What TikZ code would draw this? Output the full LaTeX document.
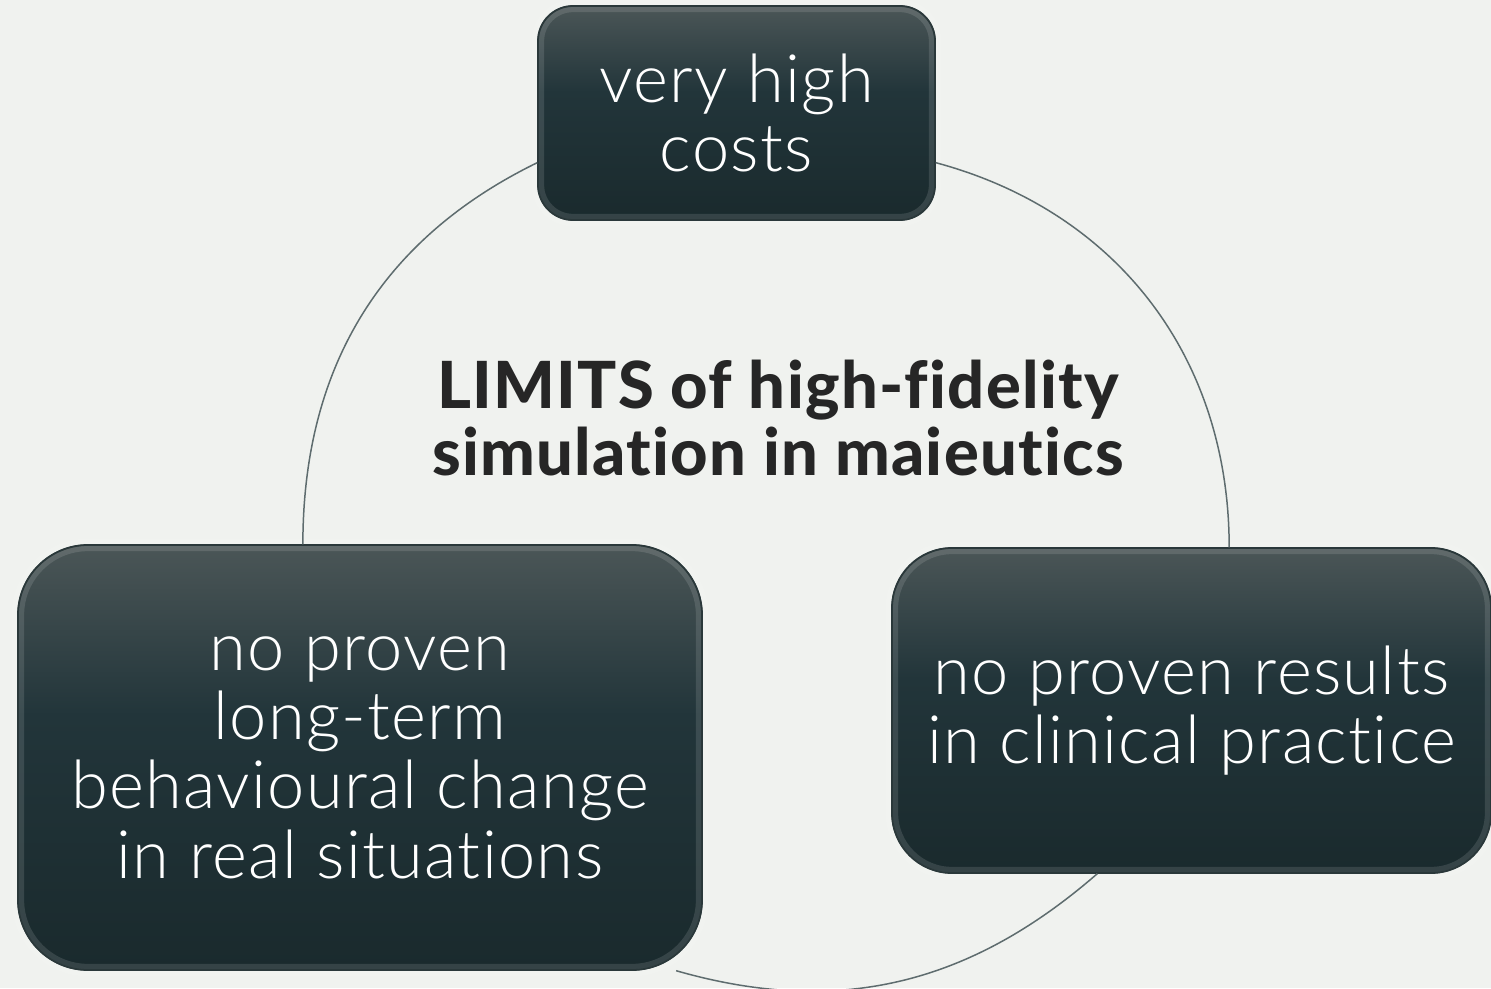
\documentclass[tikz,border=0pt]{standalone}
\usepackage{fontspec}
\defaultfontfeatures{Ligatures={NoCommon}}
\setmainfont{Lato}
\newfontfamily\lightfont{Lato Light}[LetterSpace=2]
\newfontfamily\heavyfont{Lato Heavy}[LetterSpace=2]
\usetikzlibrary{positioning}

\definecolor{bg}{HTML}{F0F2EF}
\definecolor{boxtop}{HTML}{4B5657}
\definecolor{boxmid}{HTML}{22353A}
\definecolor{boxbot}{HTML}{1A2A2D}
\definecolor{boxedge}{HTML}{2A383A}
\definecolor{arcline}{HTML}{5E6C6E}
\definecolor{titletext}{HTML}{262626}
\pgfdeclareverticalshading{boxshade}{100bp}{color(0bp)=(boxbot); color(25bp)=(boxbot); color(55bp)=(boxmid); color(75bp)=(boxtop); color(100bp)=(boxtop)}

\begin{document}
\begin{tikzpicture}[
    limit/.style={rectangle, draw=boxedge, line width=0.8pt, shading=boxshade,
      postaction={draw=white, opacity=0.12, line width=7pt},
      postaction={draw=boxedge, line width=1pt},
      text=white, align=center, inner sep=0pt,
      font=\lightfont\fontsize{38}{39.5}\selectfont},
    cycle/.style={draw=arcline, line width=0.85pt}
  ]
  \fill[bg] (0,0) rectangle (29.82,19.76);
  \useasboundingbox (0,0) rectangle (29.82,19.76);

  \node[limit, rounded corners=0.7cm, minimum width=7.94cm, minimum height=4.28cm] (costs) at (14.73,17.50) {very high\\costs};
  \node[limit, rounded corners=1.4cm, minimum width=13.68cm, minimum height=8.50cm] (behaviour) at (7.20,4.61) {no proven\\long-term\\behavioural change\\in real situations};
  \node[limit, rounded corners=1.2cm, minimum width=11.98cm, minimum height=6.50cm] (results) at (23.83,5.55) {no proven results\\in clinical practice};

  \node[text=titletext, align=center, font=\heavyfont\fontsize{37}{38.5}\selectfont] (title) at (15.56,11.40) {LIMITS of high-fidelity\\simulation in maieutics};

  \draw[cycle] (costs.194) to[out=206, in=90] (behaviour.105);
  \draw[cycle] (costs.-14) to[out=-15, in=90] (results.77);
  \draw[cycle] (results.240) to[out=-139, in=-16] (behaviour.-34);
\end{tikzpicture}
\end{document}
